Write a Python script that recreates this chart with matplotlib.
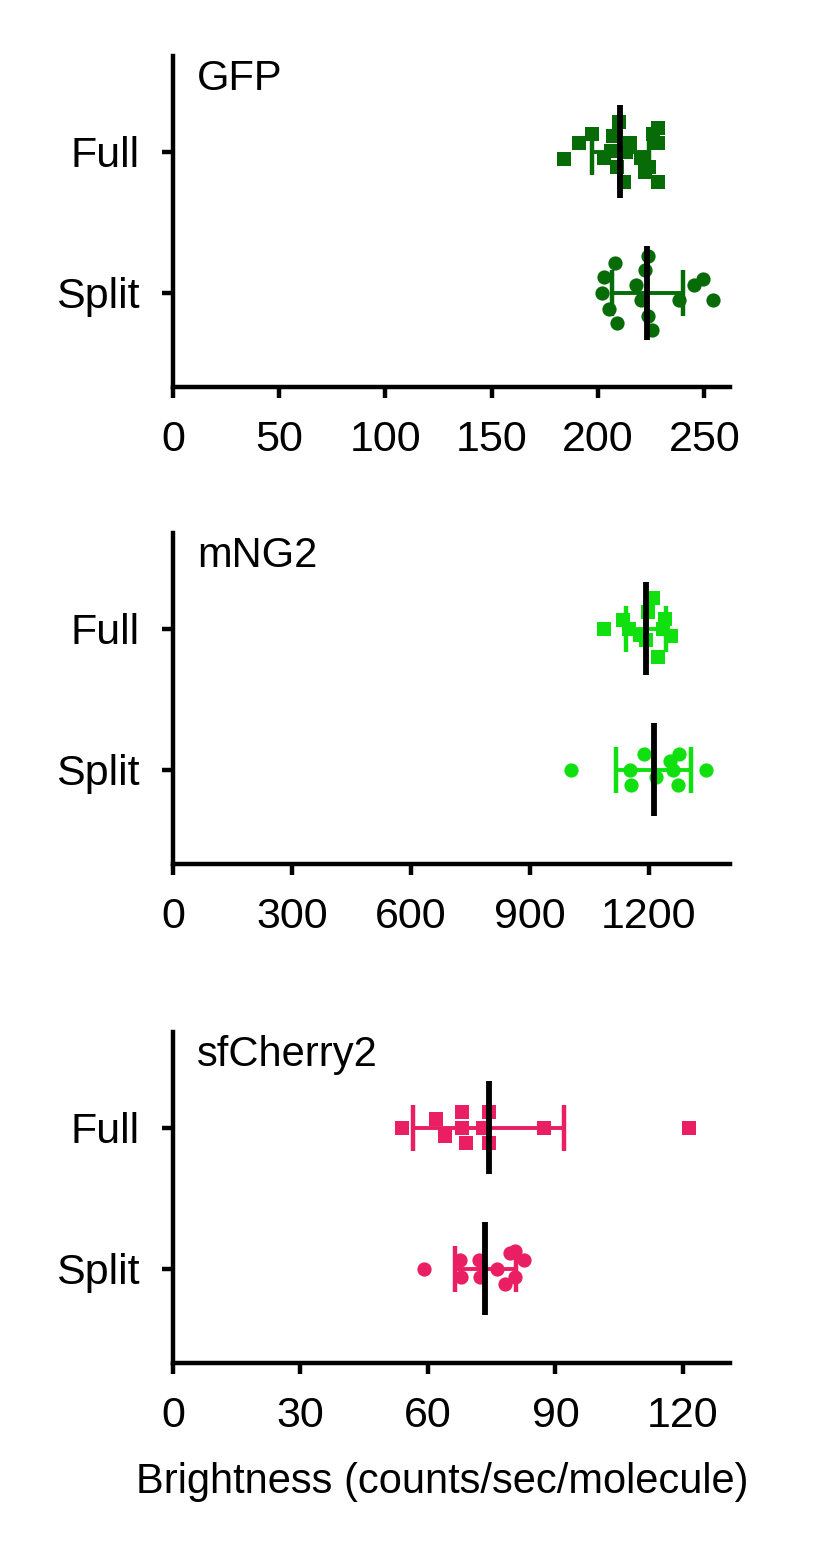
import matplotlib.pyplot as plt
import numpy as np

plt.rcParams['font.family'] = ['Liberation Sans', 'DejaVu Sans']

# categories (Split at y=0, Full at y=1)
groups = ["Split", "Full"]
proteins = ["GFP", "mNG2", "sfCherry2"]
colors = ["#076b07", "#10e010", "#e91e63"]

# GFP brightness values
gfp_full = [184, 191, 197, 203, 206, 207, 209, 210, 212, 213, 215, 220, 222, 224, 226, 228, 228, 228]
gfp_split = [202, 203, 205, 208, 209, 218, 220, 222, 223.5, 223.5, 225.5, 238, 245, 249.5, 254]
# mNG2
mng2_full = [1087, 1135, 1150, 1177, 1194, 1198, 1211, 1224, 1236, 1240, 1256]
mng2_split = [1003, 1152, 1154, 1188, 1218, 1253, 1261, 1276, 1274, 1343]
# sfCherry2
cherry_full = [54, 62, 64, 68, 68, 69, 73, 74.3, 74.3, 87.4, 121.5]
cherry_split = [59, 67.6, 67.7, 71.9, 72.2, 76.2, 78.2, 79.4, 80.5, 80.5, 82.5]

# vertical scatter of the dots (as seen in the figure)
gfp_full_jit = [-0.05, 0.06, 0.13, -0.04, 0.01, 0.11, -0.11, 0.21, -0.21, 0.0, 0.06, -0.04, -0.14, -0.11, 0.13, 0.17, 0.06, -0.21]
gfp_split_jit = [0.0, 0.11, -0.11, 0.21, -0.21, 0.06, -0.05, 0.16, 0.26, -0.16, -0.26, -0.05, 0.06, 0.1, -0.05]
mng2_full_jit = [0.0, 0.06, 0.0, -0.04, -0.08, 0.12, 0.22, -0.2, 0.0, 0.07, -0.05]
mng2_split_jit = [0.0, 0.0, -0.11, 0.11, -0.05, 0.06, 0.0, 0.11, -0.11, 0.0]
cherry_full_jit = [0.0, 0.06, -0.06, 0.11, 0.0, -0.11, 0.0, 0.11, -0.11, 0.0, 0.0]
cherry_split_jit = [0.0, 0.06, -0.06, 0.06, -0.06, 0.0, -0.11, 0.11, 0.13, -0.06, 0.06]

# mean and SD shown (split, full)
gfp_mean = [223.2, 210.5]
gfp_sd = [16.8, 13.5]
mng2_mean = [1212, 1193]
mng2_sd = [95, 50]
cherry_mean = [73.5, 74.3]
cherry_sd = [7.1, 17.8]

xticks = [[0, 50, 100, 150, 200, 250], [0, 300, 600, 900, 1200], [0, 30, 60, 90, 120]]
xmax = [262, 1404, 131]

data = [
    (gfp_split, gfp_full, gfp_split_jit, gfp_full_jit, gfp_mean, gfp_sd),
    (mng2_split, mng2_full, mng2_split_jit, mng2_full_jit, mng2_mean, mng2_sd),
    (cherry_split, cherry_full, cherry_split_jit, cherry_full_jit, cherry_mean, cherry_sd),
]

fig = plt.figure(figsize=(8.35, 15.52), dpi=100)
bottoms = [0.7506, 0.4433, 0.1218]

for i in range(3):
    ax = fig.add_axes([0.207, bottoms[i], 0.667, 0.2133])
    split, full, sj, fj, mean, sd = data[i]
    c = colors[i]

    # dots: squares for Full, circles for Split
    ax.scatter(full, 1 + np.array(fj), marker='s', s=115, color=c, linewidths=0, zorder=3)
    ax.scatter(split, 0 + np.array(sj), marker='o', s=105, color=c, linewidths=0, zorder=3)

    # SD bars with caps, then black mean line
    for y in [0, 1]:
        ax.hlines(y, mean[y] - sd[y], mean[y] + sd[y], color=c, lw=2.8, zorder=2)
        ax.vlines([mean[y] - sd[y], mean[y] + sd[y]], y - 0.165, y + 0.165, color=c, lw=3.2, zorder=2)
        ax.vlines(mean[y], y - 0.33, y + 0.33, color='black', lw=4.2, zorder=4)

    ax.set_xlim(0, xmax[i])
    ax.set_ylim(-0.667, 1.68)
    ax.set_xticks(xticks[i])
    ax.set_yticks([0, 1])
    ax.set_yticklabels(groups)
    ax.spines['top'].set_visible(False)
    ax.spines['right'].set_visible(False)
    ax.spines['left'].set_linewidth(3.2)
    ax.spines['bottom'].set_linewidth(3.2)
    ax.tick_params(width=3.2, length=8, pad=16, labelsize=31)
    ax.text(0.043, 0.93, proteins[i], transform=ax.transAxes, fontsize=30, va='center', ha='left')

    if i == 2:
        ax.set_xlabel("Brightness (counts/sec/molecule)", fontsize=30)
        ax.xaxis.set_label_coords(0.483, -0.30)

plt.savefig("out.png", dpi=100)
